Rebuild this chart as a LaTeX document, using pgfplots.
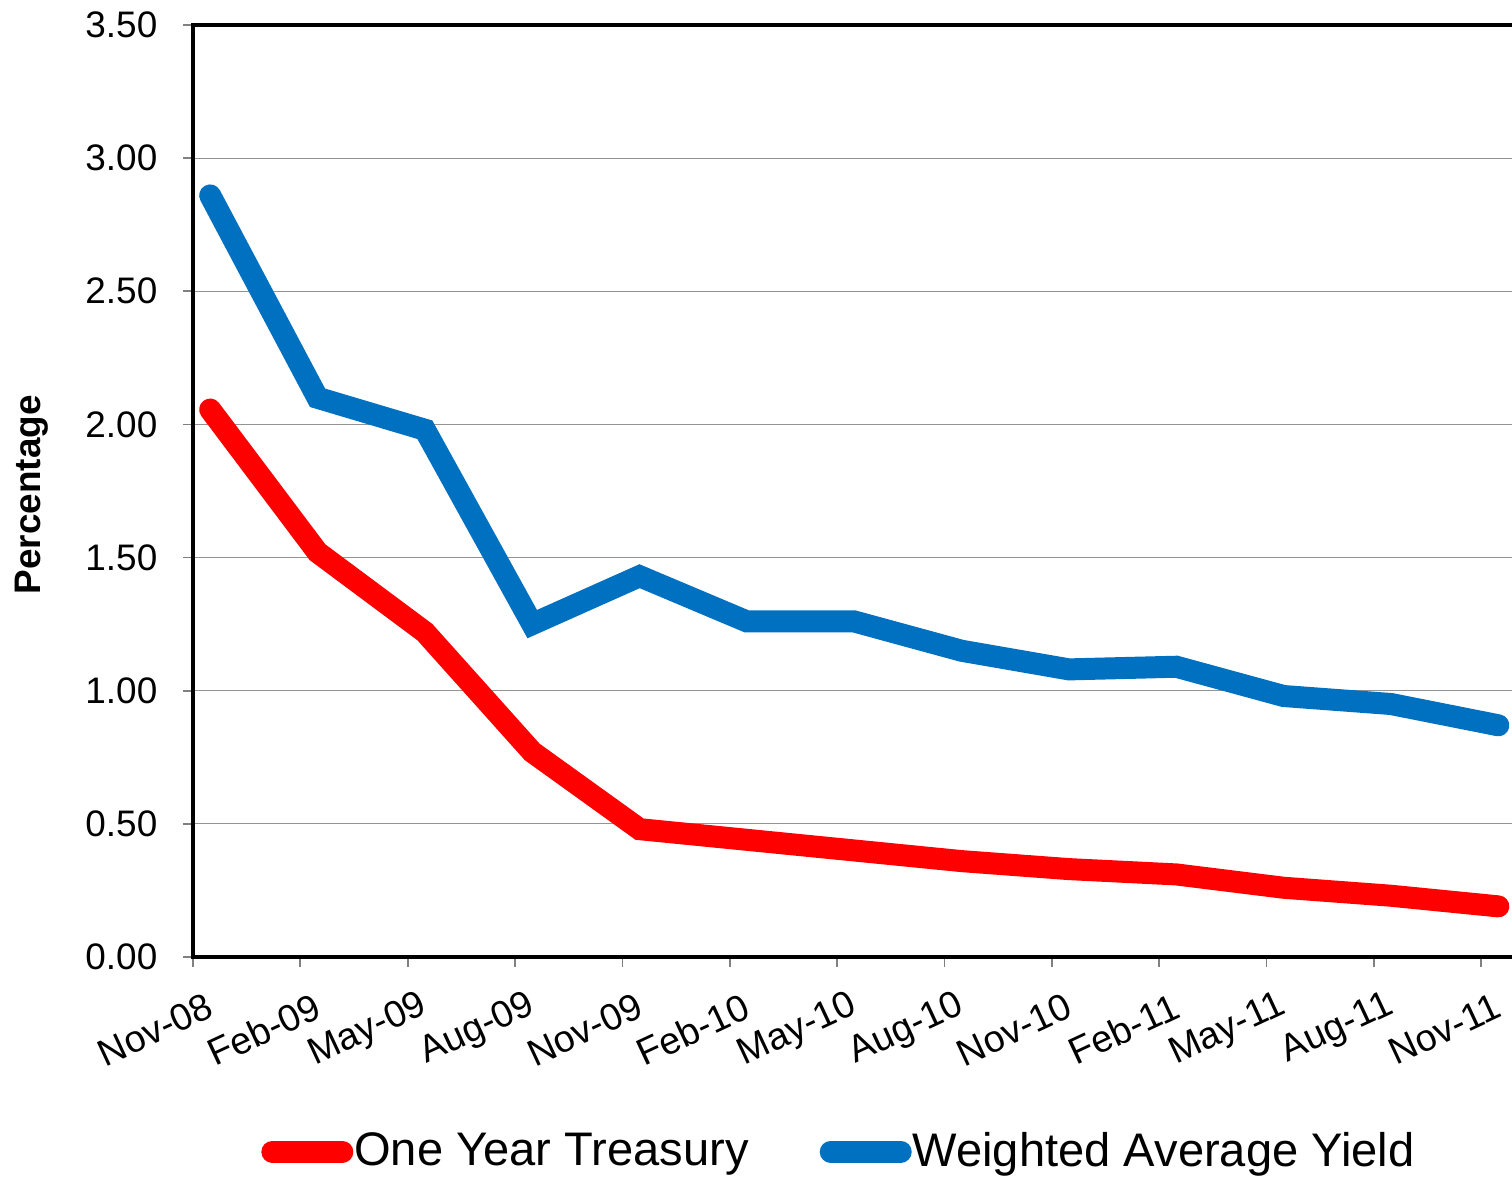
\documentclass[border=0pt]{standalone}
\usepackage{pgfplots}
\pgfplotsset{compat=1.18}
\usepackage{fontspec}
\setmainfont{Liberation Sans}

\definecolor{tred}{HTML}{FF0000}
\definecolor{tblue}{HTML}{0070C0}

\begin{document}
\begin{tikzpicture}
\begin{axis}[
    name=ax,
    scale only axis,
    width=131.9mm, height=93.2mm,
    xmin=-0.16, xmax=12.127,
    ymin=0, ymax=3.5,
    xtick={-0.16,0.84,...,11.9},
    xticklabels={Nov-08,Feb-09,May-09,Aug-09,Nov-09,Feb-10,May-10,Aug-10,Nov-10,Feb-11,May-11,Aug-11,Nov-11},
    ytick={0,0.5,...,3.5},
    yticklabels={0.00,0.50,1.00,1.50,2.00,2.50,3.00,3.50},
    xtick pos=bottom, ytick pos=left,
    tick align=outside,
    major tick length=1mm,
    tick style={gray, line width=0.5pt},
    axis line style={draw=none},
    ymajorgrids,
    major grid style={gray!85, line width=0.35pt},
    yticklabel style={font=\fontsize{10.5pt}{12pt}\selectfont, inner sep=0pt, xshift=-2.5mm},
    xticklabel style={font=\fontsize{10.7pt}{12pt}\selectfont, inner sep=0pt,
        xshift=1.8mm, yshift=-3.7mm, rotate=25, anchor=east},
    ylabel={Percentage},
    every axis y label/.style={at={(axis description cs:-0.122,0.496)}, rotate=90, anchor=center,
        font=\fontsize{10.5pt}{12pt}\selectfont\bfseries},
    legend columns=2,
    legend style={draw=none, at={(0.4848,-0.209)}, anchor=center,
        font=\fontsize{13.4pt}{15pt}\selectfont,
        nodes={inner sep=0pt},
        /tikz/every even column/.append style={column sep=6mm}},
    legend image code/.code={
        \path (0mm,0mm) (8.2mm,0mm);
        \draw[#1, line cap=round] (1.1mm,0mm) -- (8.1mm,0mm);
    },
]
\addplot[tred, line width=2.2mm, line cap=round, line join=miter] coordinates {
    (0,2.056) (1,1.52) (2,1.22) (3,0.77) (4,0.48) (5,0.44) (6,0.40)
    (7,0.36) (8,0.33) (9,0.31) (10,0.26) (11,0.23) (12,0.19)
};
\addlegendentry{One Year Treasury}
\addplot[tblue, line width=2.2mm, line cap=round, line join=miter] coordinates {
    (0,2.86) (1,2.10) (2,1.98) (3,1.25) (4,1.43) (5,1.26) (6,1.26)
    (7,1.15) (8,1.08) (9,1.09) (10,0.98) (11,0.95) (12,0.87)
};
\addlegendentry{Weighted Average Yield}
\end{axis}
\draw[black, line width=1pt] (ax.north east) -- (ax.north west) -- (ax.south west) -- (ax.south east);
\pgfresetboundingbox
\path ([xshift=-19.3mm,yshift=-22.2mm]ax.south west) rectangle ([yshift=2.5mm]ax.north east);
\end{tikzpicture}
\end{document}
